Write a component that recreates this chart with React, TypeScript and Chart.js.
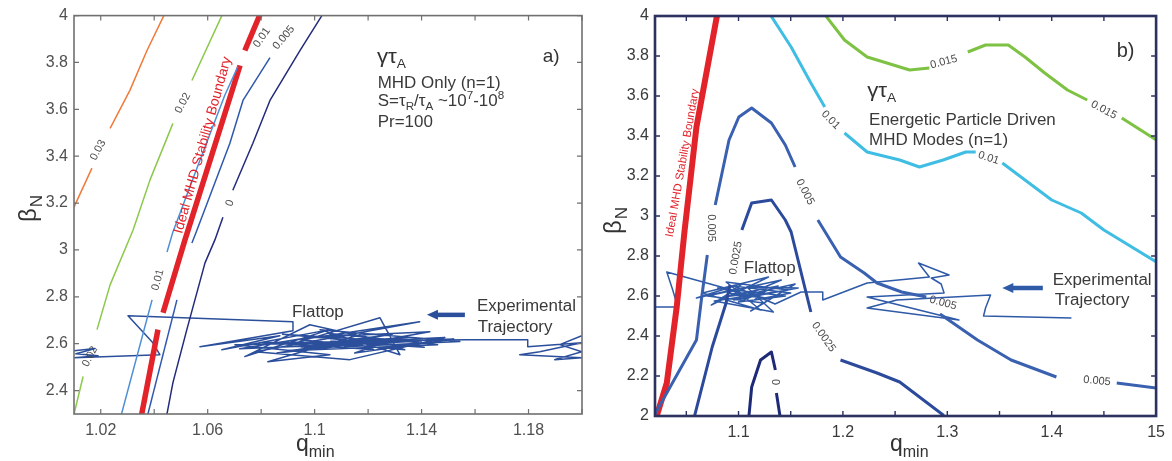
import React, { useEffect, useRef } from 'react';
import { Chart, registerables } from 'chart.js';
Chart.register(...registerables);

type P = [number, number];
const FONT = '"Liberation Sans", Arial, Helvetica, sans-serif';

// ---------------- Panel a data ----------------
const aXTicks = [1.02, 1.04, 1.06, 1.08, 1.1, 1.12, 1.14, 1.16, 1.18, 1.2];
const aXTickLabels = ['1.02', '', '1.06', '', '1.1', '', '1.14', '', '1.18', ''];
const aYTicks = [2.4, 2.6, 2.8, 3.0, 3.2, 3.4, 3.6, 3.8, 4.0];
const aYTickLabels = ['2.4', '2.6', '2.8', '3', '3.2', '3.4', '3.6', '3.8', '4'];

const aC003: P[][] = [
  [[1.0100, 3.183], [1.0167, 3.349]],
  [[1.0235, 3.519], [1.0309, 3.681], [1.0373, 3.851], [1.0436, 4.0], [1.0448, 4.05]],
];
const aC002: P[][] = [
  [[1.0665, 4.05], [1.0653, 4.0], [1.0541, 3.723]],
  [[1.047, 3.54], [1.0384, 3.298], [1.0321, 3.085], [1.0235, 2.851], [1.0186, 2.66]],
  [[1.0134, 2.46], [1.0098, 2.29]],
];
const aC001: P[][] = [
  [[1.0273, 2.28], [1.0392, 2.787]],
  [[1.0448, 2.991], [1.047, 3.077], [1.0571, 3.383], [1.0664, 3.66], [1.0713, 3.783]],
];
const aC0005: P[][] = [
  [[1.0372, 2.28], [1.0485, 2.787]],
  [[1.0541, 3.03], [1.056, 3.085], [1.0683, 3.455], [1.0732, 3.638], [1.0833, 3.821]],
];
const aC0: P[][] = [
  [[1.0443, 2.28], [1.0448, 2.302], [1.047, 2.434], [1.0522, 2.66], [1.059, 2.945], [1.0627, 3.043], [1.0657, 3.14]],
  [[1.0694, 3.255], [1.0769, 3.455], [1.0833, 3.638], [1.0945, 3.851], [1.1027, 4.0], [1.1045, 4.03]],
];
const aRed: P[][] = [
  [[1.0805, 4.03], [1.0739, 3.851]],
  [[1.0721, 3.787], [1.0515, 3.043], [1.0433, 2.732]],
  [[1.0414, 2.66], [1.035, 2.28]],
];
const aTraj: P[] = [
  [1.0100, 2.570], [1.0179, 2.579], [1.0107, 2.557], [1.0190, 2.549], [1.0100, 2.540], [1.0235, 2.545],
  [1.0421, 2.553], [1.0395, 2.604], [1.0302, 2.719], [1.0919, 2.694], [1.0919, 2.655], [1.0571, 2.587],
  [1.0870, 2.634], [1.0653, 2.574], [1.1057, 2.660], [1.0739, 2.545], [1.0982, 2.681], [1.1263, 2.609],
  [1.0702, 2.596], [1.1057, 2.553], [1.0825, 2.523], [1.1169, 2.638], [1.1337, 2.574], [1.0945, 2.617],
  [1.1393, 2.694], [1.0777, 2.566], [1.1132, 2.532], [1.1487, 2.626], [1.0907, 2.596], [1.1244, 2.711],
  [1.1319, 2.553], [1.1020, 2.660], [1.1543, 2.609], [1.1113, 2.587], [1.1431, 2.651],
  [1.0985, 2.628], [1.0720, 2.578], [1.1180, 2.600], [1.0860, 2.560], [1.1290, 2.640], [1.0950, 2.586],
  [1.1400, 2.612], [1.0800, 2.605], [1.1220, 2.575], [1.1050, 2.645], [1.1460, 2.596], [1.0900, 2.570],
  [1.1350, 2.628], [1.1000, 2.598], [1.1520, 2.620], [1.1150, 2.560], [1.1280, 2.612], [1.0880, 2.640],
  [1.1410, 2.585], [1.1060, 2.610], [1.1569, 2.617],
  [1.1797, 2.617], [1.1797, 2.587], [1.1999, 2.604], [1.1842, 2.566], [1.1767, 2.553], [1.1999, 2.540],
  [1.1898, 2.532], [1.1999, 2.566], [1.1917, 2.596], [1.1999, 2.634],
];

// ---------------- Panel b data ----------------
const bXTicks = [1.05, 1.1, 1.15, 1.2, 1.25, 1.3, 1.35, 1.4, 1.45, 1.5];
const bXTickLabels = ['', '1.1', '', '1.2', '', '1.3', '', '1.4', '', '15'];
const bYTicks = [2.0, 2.2, 2.4, 2.6, 2.8, 3.0, 3.2, 3.4, 3.6, 3.8, 4.0];
const bYTickLabels = ['2', '2.2', '2.4', '2.6', '2.8', '3', '3.2', '3.4', '3.6', '3.8', '4'];

const bRed: P[][] = [
  [[1.019, 1.975], [1.0219, 2.005], [1.0313, 2.165], [1.0408, 2.545], [1.0484, 2.93], [1.0597, 3.445], [1.0795, 4.005], [1.0805, 4.03]],
];
const bC001: P[][] = [
  [[1.1277, 4.03], [1.1306, 4.005], [1.1504, 3.845], [1.1693, 3.665], [1.1826, 3.545]],
  [[1.2015, 3.415], [1.2232, 3.32], [1.2544, 3.28], [1.2733, 3.245], [1.296, 3.28], [1.3177, 3.32], [1.3272, 3.32]],
  [[1.3527, 3.265], [1.3744, 3.18], [1.40, 3.08], [1.4283, 3.015], [1.45, 2.93], [1.5002, 2.77], [1.51, 2.74]],
];
const bC0015: P[][] = [
  [[1.1807, 4.02], [1.2015, 3.88], [1.2232, 3.795], [1.2421, 3.765], [1.2639, 3.73], [1.2828, 3.74]],
  [[1.3196, 3.82], [1.3366, 3.855], [1.3584, 3.855], [1.3744, 3.795], [1.3933, 3.715], [1.4151, 3.63], [1.434, 3.58]],
  [[1.4671, 3.49], [1.5002, 3.38], [1.51, 3.345]],
];
const bC0005: P[][] = [
  [[1.02, 2.01], [1.0436, 2.23], [1.0597, 2.38], [1.0644, 2.58], [1.0701, 2.805]],
  [[1.0777, 3.055], [1.0909, 3.38], [1.1003, 3.495], [1.1126, 3.54], [1.1315, 3.465], [1.1448, 3.355], [1.1542, 3.245]],
  [[1.176, 2.98], [1.1977, 2.795], [1.2204, 2.715], [1.2327, 2.665], [1.2563, 2.62], [1.2799, 2.595]],
  [[1.293, 2.51], [1.3289, 2.38], [1.3611, 2.28], [1.4045, 2.195]],
  [[1.4623, 2.165], [1.5002, 2.14], [1.51, 2.135]],
];
const bC00025: P[][] = [
  [[1.0569, 1.98], [1.0748, 2.345], [1.0881, 2.565], [1.0918, 2.655]],
  [[1.1032, 2.93], [1.1126, 3.065], [1.1315, 3.08], [1.1448, 2.98], [1.1504, 2.92], [1.1693, 2.52]],
  [[1.1977, 2.28], [1.2327, 2.215], [1.2544, 2.17], [1.296, 2.005], [1.298, 1.99]],
];
const bC0: P[][] = [
  [[1.1098, 1.99], [1.1126, 2.145], [1.1211, 2.28], [1.1315, 2.32], [1.1353, 2.23]],
  [[1.1363, 2.115], [1.14, 1.99]],
];
const bTraj: P[] = [
  [1.02, 2.545], [1.0417, 2.545], [1.037, 2.63], [1.0313, 2.72], [1.0937, 2.63], [1.0597, 2.59],
  [1.1051, 2.665], [1.0739, 2.555], [1.1287, 2.695], [1.0654, 2.615], [1.1211, 2.53], [1.0881, 2.67],
  [1.1476, 2.63], [1.0767, 2.575], [1.1334, 2.52], [1.1079, 2.645], [1.1571, 2.64], [1.0956, 2.58],
  [1.141, 2.68], [1.0701, 2.60], [1.124, 2.565], [1.1117, 2.525], [1.1542, 2.66], [1.1022, 2.60],
  [1.0900, 2.615], [1.1300, 2.585], [1.0800, 2.640], [1.1450, 2.600], [1.1000, 2.570], [1.1380, 2.650],
  [1.0850, 2.595], [1.1250, 2.620], [1.1150, 2.580], [1.1500, 2.615], [1.0950, 2.650], [1.1350, 2.560],
  [1.1599, 2.62], [1.1807, 2.62], [1.1807, 2.58], [1.2232, 2.665], [1.2828, 2.695], [1.2724, 2.765],
  [1.3017, 2.705], [1.2847, 2.69], [1.2941, 2.66], [1.2969, 2.615], [1.2232, 2.595], [1.3111, 2.48],
  [1.2232, 2.54], [1.2516, 2.58], [1.3414, 2.605], [1.3366, 2.54], [1.3347, 2.50], [1.4189, 2.49],
];

// ---------------- helpers ----------------
type Part = { t: string; s: number; dy?: number };

function rich(ctx: any, x: number, y: number, parts: Part[], color: string, sx = 1.06) {
  ctx.save();
  ctx.translate(x, y);
  ctx.scale(sx, 1);
  ctx.fillStyle = color;
  ctx.textAlign = 'left';
  ctx.textBaseline = 'alphabetic';
  let cx = 0;
  for (const p of parts) {
    ctx.font = `${p.s}px ${FONT}`;
    ctx.fillText(p.t, cx, p.dy || 0);
    cx += ctx.measureText(p.t).width;
  }
  ctx.restore();
}

function rot(ctx: any, x: number, y: number, text: string, size: number, color: string, deg: number) {
  ctx.save();
  ctx.translate(x, y);
  ctx.rotate((deg * Math.PI) / 180);
  ctx.font = `${size}px ${FONT}`;
  ctx.fillStyle = color;
  ctx.textAlign = 'center';
  ctx.textBaseline = 'middle';
  ctx.fillText(text, 0, 0);
  ctx.restore();
}

function arrow(ctx: any, x1: number, x2: number, y: number, color: string) {
  ctx.save();
  ctx.strokeStyle = color;
  ctx.fillStyle = color;
  ctx.lineWidth = 4.5;
  ctx.beginPath();
  ctx.moveTo(x1, y);
  ctx.lineTo(x2 + 8, y);
  ctx.stroke();
  ctx.beginPath();
  ctx.moveTo(x2, y);
  ctx.lineTo(x2 + 11, y - 5);
  ctx.lineTo(x2 + 11, y + 5);
  ctx.closePath();
  ctx.fill();
  ctx.restore();
}

const segs = (s: P[][], color: string, width: number) =>
  s.map((seg) => ({
    data: seg.map(([x, y]) => ({ x, y })),
    borderColor: color,
    backgroundColor: color,
    borderWidth: width,
    showLine: true,
    pointRadius: 0,
    pointHoverRadius: 0,
    fill: false,
    tension: 0,
    borderJoinStyle: 'round',
  }));

function makeChart(canvas: HTMLCanvasElement, cfg: any) {
  const framePlugin = {
    id: 'frame' + cfg.id,
    afterDatasetsDraw(chart: any) {
      const ctx = chart.ctx;
      const xs = chart.scales.x;
      const ys = chart.scales.y;
      const { left, right, top, bottom } = chart.chartArea;
      const X = (v: number) => xs.getPixelForValue(v);
      const Y = (v: number) => ys.getPixelForValue(v);
      cfg.annotate(ctx, X, Y);
      ctx.save();
      ctx.strokeStyle = cfg.frameColor;
      ctx.lineWidth = cfg.tickWidth;
      ctx.beginPath();
      for (const v of cfg.xTicks) {
        const px = X(v);
        ctx.moveTo(px, bottom);
        ctx.lineTo(px, bottom - 5);
        ctx.moveTo(px, top);
        ctx.lineTo(px, top + 5);
      }
      for (const v of cfg.yTicks) {
        const py = Y(v);
        ctx.moveTo(left, py);
        ctx.lineTo(left + 5, py);
        ctx.moveTo(right, py);
        ctx.lineTo(right - 5, py);
      }
      ctx.stroke();
      ctx.lineWidth = cfg.frameWidth;
      ctx.strokeRect(left, top, right - left, bottom - top);
      ctx.restore();
    },
    afterDraw(chart: any) {
      cfg.titles(chart.ctx);
    },
  };
  return new Chart(canvas, {
    type: 'scatter',
    data: { datasets: cfg.datasets },
    options: {
      animation: false,
      responsive: false,
      maintainAspectRatio: false,
      devicePixelRatio: 1,
      events: [],
      layout: { padding: cfg.padding },
      plugins: { legend: { display: false }, tooltip: { enabled: false } },
      scales: {
        x: {
          type: 'linear',
          min: cfg.xMin,
          max: cfg.xMax,
          afterBuildTicks: (s: any) => {
            s.ticks = cfg.xTicks.map((v: number) => ({ value: v }));
          },
          afterFit: (s: any) => {
            s.height = cfg.xAxisHeight;
          },
          ticks: {
            autoSkip: false,
            maxRotation: 0,
            padding: 7,
            color: cfg.labelColor,
            font: { family: FONT, size: 16 },
            callback: (_v: any, i: number) => cfg.xTickLabels[i],
          },
          grid: { display: false, drawTicks: false },
          border: { display: false },
        },
        y: {
          type: 'linear',
          min: cfg.yMin,
          max: cfg.yMax,
          afterBuildTicks: (s: any) => {
            s.ticks = cfg.yTicks.map((v: number) => ({ value: v }));
          },
          afterFit: (s: any) => {
            s.width = cfg.yAxisWidth;
          },
          ticks: {
            autoSkip: false,
            padding: 6,
            color: cfg.labelColor,
            font: { family: FONT, size: 16 },
            callback: (_v: any, i: number) => cfg.yTickLabels[i],
          },
          grid: { display: false, drawTicks: false },
          border: { display: false },
        },
      },
    } as any,
    plugins: [framePlugin],
  } as any);
}

function betaTitle(ctx: any, bx: number, by: number) {
  ctx.save();
  ctx.translate(bx, by);
  ctx.rotate(-Math.PI / 2);
  ctx.fillStyle = '#333';
  ctx.textBaseline = 'alphabetic';
  ctx.font = `24px ${FONT}`;
  ctx.fillText('β', 0, 0);
  const w = ctx.measureText('β').width;
  ctx.font = `17px ${FONT}`;
  ctx.fillText('N', w + 1, 6);
  ctx.restore();
}

function qTitle(ctx: any, qx: number, qy: number) {
  ctx.save();
  ctx.fillStyle = '#333';
  ctx.textBaseline = 'alphabetic';
  ctx.font = `23px ${FONT}`;
  ctx.fillText('q', qx, qy);
  const w = ctx.measureText('q').width;
  ctx.font = `16px ${FONT}`;
  ctx.fillText('min', qx + w, qy + 6);
  ctx.restore();
}

const LBL = '#4a4a4a';
const RED = '#e2232a';

export default function App() {
  const refA = useRef<HTMLCanvasElement>(null);
  const refB = useRef<HTMLCanvasElement>(null);

  useEffect(() => {
    const trajA = '#2b4f9b';
    const chartA = makeChart(refA.current!, {
      id: 'a',
      xMin: 1.01, xMax: 1.2, yMin: 2.3, yMax: 4.0,
      xTicks: aXTicks, xTickLabels: aXTickLabels, yTicks: aYTicks, yTickLabels: aYTickLabels,
      padding: { left: 0, top: 15, right: 8, bottom: 0 },
      yAxisWidth: 74, xAxisHeight: 47,
      frameColor: '#707070', frameWidth: 1.6, tickWidth: 1.2, labelColor: '#505050',
      datasets: [
        ...segs(aC003, '#f07a3a', 1.5),
        ...segs(aC002, '#8cc84b', 1.5),
        ...segs(aC001, '#4d8fd6', 1.5),
        ...segs(aC0005, '#3058ad', 1.5),
        ...segs(aC0, '#232b7c', 1.5),
        ...segs(aRed, RED, 5.5),
        ...segs([aTraj], trajA, 1.5),
      ],
      annotate: (ctx: any, X: any, Y: any) => {
        rich(ctx, X(1.1233), Y(3.796), [{ t: 'γτ', s: 21 }, { t: 'A', s: 13, dy: 5 }], '#333');
        rich(ctx, X(1.1236), Y(3.689), [{ t: 'MHD Only (n=1)', s: 16 }], '#3a3a3a');
        rich(ctx, X(1.1236), Y(3.613), [
          { t: 'S=τ', s: 16 }, { t: 'R', s: 11, dy: 4 }, { t: '/τ', s: 16 }, { t: 'A', s: 11, dy: 4 },
          { t: ' ~10', s: 16 }, { t: '7', s: 11, dy: -7 }, { t: '-10', s: 16 }, { t: '8', s: 11, dy: -7 },
        ], '#3a3a3a');
        rich(ctx, X(1.1236), Y(3.523), [{ t: 'Pr=100', s: 16 }], '#3a3a3a');
        rich(ctx, X(1.1853), Y(3.8), [{ t: 'a)', s: 19 }], '#333', 1);
        rich(ctx, X(1.0915), Y(2.715), [{ t: 'Flattop', s: 16 }], '#3a3a3a');
        rich(ctx, X(1.1607), Y(2.74), [{ t: 'Experimental', s: 16 }], '#3a3a3a');
        rich(ctx, X(1.161), Y(2.651), [{ t: 'Trajectory', s: 16 }], '#3a3a3a');
        arrow(ctx, X(1.1562), X(1.142), Y(2.723), trajA);
        rot(ctx, X(1.0582), Y(3.447), 'Ideal MHD Stability Boundary', 14, RED, -74.4);
        rot(ctx, X(1.019), Y(3.426), '0.03', 11, LBL, -62);
        rot(ctx, X(1.0507), Y(3.626), '0.02', 11, LBL, -62);
        rot(ctx, X(1.016), Y(2.545), '0.02', 11, LBL, -62);
        rot(ctx, X(1.0414), Y(2.872), '0.01', 11, LBL, -75);
        rot(ctx, X(1.0803), Y(3.906), '0.01', 11, LBL, -55);
        rot(ctx, X(1.0885), Y(3.906), '0.005', 11, LBL, -50);
        rot(ctx, X(1.0683), Y(3.2), '0', 11, LBL, -70);
      },
      titles: (ctx: any) => {
        betaTitle(ctx, 36, 222);
        qTitle(ctx, 296, 451);
      },
    });

    const trajB = '#2f5aa8';
    const chartB = makeChart(refB.current!, {
      id: 'b',
      xMin: 1.02, xMax: 1.5, yMin: 2.0, yMax: 4.0,
      xTicks: bXTicks, xTickLabels: bXTickLabels, yTicks: bYTicks, yTickLabels: bYTickLabels,
      padding: { left: 0, top: 16, right: 9, bottom: 0 },
      yAxisWidth: 65, xAxisHeight: 45,
      frameColor: '#2c3160', frameWidth: 2.6, tickWidth: 1.4, labelColor: '#3a3a3a',
      datasets: [
        ...segs(bC0015, '#7dc243', 3),
        ...segs(bC001, '#3fbde3', 3),
        ...segs(bC0005, '#3a60b0', 3),
        ...segs(bC00025, '#2c4a9c', 3),
        ...segs(bC0, '#1d2a78', 3),
        ...segs(bRed, RED, 6),
        ...segs([bTraj], trajB, 1.5),
      ],
      annotate: (ctx: any, X: any, Y: any) => {
        rich(ctx, X(1.2232), Y(3.595), [{ t: 'γτ', s: 21 }, { t: 'A', s: 13, dy: 5 }], '#333');
        rich(ctx, X(1.2251), Y(3.455), [{ t: 'Energetic Particle Driven', s: 16 }], '#3a3a3a');
        rich(ctx, X(1.2251), Y(3.355), [{ t: 'MHD Modes (n=1)', s: 16 }], '#3a3a3a');
        rich(ctx, X(1.4623), Y(3.795), [{ t: 'b)', s: 20 }], '#333', 1);
        rich(ctx, X(1.1051), Y(2.715), [{ t: 'Flattop', s: 16 }], '#3a3a3a');
        rich(ctx, X(1.4009), Y(2.655), [{ t: 'Experimental', s: 16 }], '#3a3a3a');
        rich(ctx, X(1.4028), Y(2.555), [{ t: 'Trajectory', s: 16 }], '#3a3a3a');
        arrow(ctx, X(1.3915), X(1.3527), Y(2.64), trajB);
        rot(ctx, X(1.0465), Y(3.265), 'Ideal MHD Stability Boundary', 11.5, RED, -80);
        rot(ctx, X(1.2967), Y(3.77), '0.015', 11, LBL, -15);
        rot(ctx, X(1.45), Y(3.53), '0.015', 11, LBL, 28);
        rot(ctx, X(1.1882), Y(3.48), '0.01', 11, LBL, 45);
        rot(ctx, X(1.3395), Y(3.29), '0.01', 11, LBL, 18);
        rot(ctx, X(1.1637), Y(3.12), '0.005', 11, LBL, 62);
        rot(ctx, X(1.0739), Y(2.94), '0.005', 11, LBL, 90);
        rot(ctx, X(1.0975), Y(2.79), '0.0025', 11, LBL, -80);
        rot(ctx, X(1.1816), Y(2.395), '0.0025', 11, LBL, 55);
        rot(ctx, X(1.296), Y(2.565), '0.005', 11, LBL, 15);
        rot(ctx, X(1.4434), Y(2.175), '0.005', 11, LBL, 5);
        rot(ctx, X(1.1353), Y(2.17), '0', 11, LBL, 90);
      },
      titles: (ctx: any) => {
        betaTitle(ctx, 31, 234);
        qTitle(ctx, 300, 451);
      },
    });

    return () => {
      chartA.destroy();
      chartB.destroy();
    };
  }, []);

  return (
    <div style={{ position: 'absolute', left: 0, top: 0, width: 1172, height: 461, background: '#fff' }}>
      <canvas ref={refA} width={590} height={461} style={{ position: 'absolute', left: 0, top: 0 }} />
      <canvas ref={refB} width={582} height={461} style={{ position: 'absolute', left: 590, top: 0 }} />
    </div>
  );
}
